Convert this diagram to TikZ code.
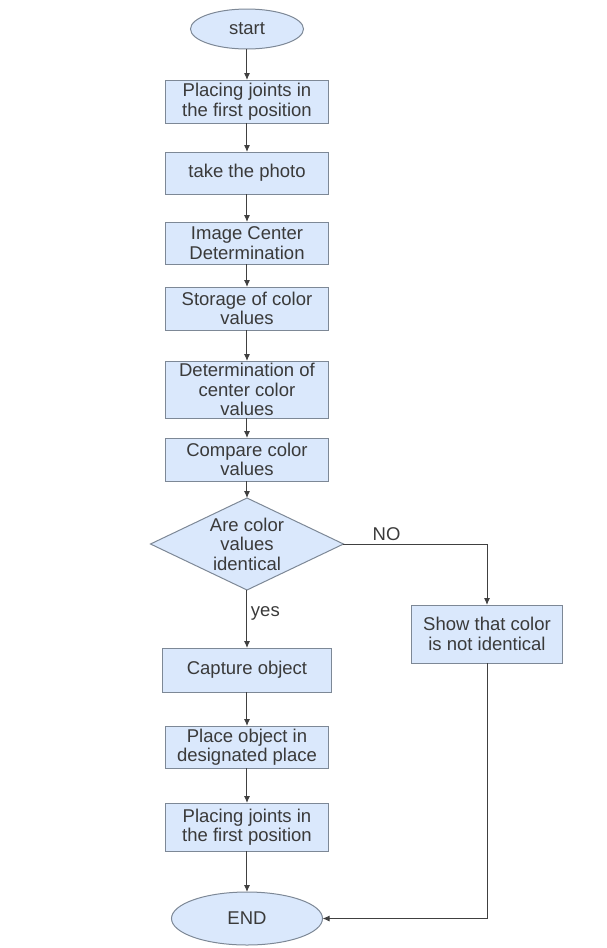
\documentclass[tikz,border=0pt]{standalone}
\usepackage{fontspec}
\setmainfont{Liberation Sans}
\usetikzlibrary{shapes.geometric,arrows.meta,positioning}

\definecolor{boxfill}{HTML}{DAE8FC}
\definecolor{boxline}{HTML}{7D8896}
\definecolor{txtgray}{HTML}{3A3A3A}
\definecolor{linegray}{HTML}{404040}

\begin{document}
\begin{tikzpicture}[node distance=30pt, >={Latex[length=7pt,width=6pt]},
    every node/.style={font=\fontsize{18.5}{19.5}\selectfont, text=txtgray, outer sep=0pt},
    procbox/.style={rectangle, draw=boxline, fill=boxfill, line width=1pt, align=center, minimum width=163pt, minimum height=43pt, inner sep=0pt},
    termnode/.style={ellipse, draw=boxline, fill=boxfill, line width=1pt, inner sep=0pt},
    decide/.style={diamond, aspect=2, draw=boxline, fill=boxfill, line width=1pt, align=center, inner sep=0pt, minimum width=193pt, minimum height=92pt},
    flow/.style={->, draw=linegray, line width=1pt}]
    \useasboundingbox (-247pt,29pt) rectangle (360pt,-919pt);

    % Nodes
    \node (start) [termnode, minimum width=113pt, minimum height=40pt] {start};
    \node (joints) [procbox, below=31pt of start] {Placing joints in\\the first position};
    \node (photo) [procbox, minimum height=42pt, below=29pt of joints] {take the photo};
    \node (center) [procbox, minimum height=42pt, below=28pt of photo] {Image Center\\Determination};
    \node (store) [procbox, below=23pt of center] {Storage of color\\values};
    \node (centercol) [procbox, minimum height=57pt, below=31pt of store] {Determination of\\center color\\values};
    \node (compare) [procbox, below=20pt of centercol] {Compare color\\values};

    \node (check) [decide, below=17pt of compare] {Are color\\values\\identical};
    \node (show) [procbox, minimum width=151pt, minimum height=58pt, right=68pt of check, yshift=-90pt] {Show that color\\is not identical};

    \node (capture) [procbox, minimum width=168pt, minimum height=44pt, below=58pt of check] {Capture object};
    \node (place) [procbox, minimum height=42pt, below=34pt of capture] {Place object in\\designated place};
    \node (home) [procbox, minimum height=48pt, below=35pt of place] {Placing joints in\\the first position};
    \node (end) [termnode, minimum width=151pt, minimum height=53pt, below=41pt of home] {END};

    % Arrows
    \draw [flow] (start) -- (joints);
    \draw [flow] (joints) -- (photo);
    \draw [flow] (photo) -- (center);
    \draw [flow] (center) -- (store);
    \draw [flow] (store) -- (centercol);
    \draw [flow] (centercol) -- (compare);
    \draw [flow] (compare) -- (check);
    \draw [flow] (check) -- node [right, pos=0.4, inner sep=4pt] {yes} (capture);
    \draw [flow] (check) -| node [above, pos=0.15, inner sep=3pt] {NO} (show);
    \draw [flow] (capture) -- (place);
    \draw [flow] (place) -- (home);
    \draw [flow] (home) -- (end);
    \draw [flow] (show) |- (end);
\end{tikzpicture}
\end{document}
